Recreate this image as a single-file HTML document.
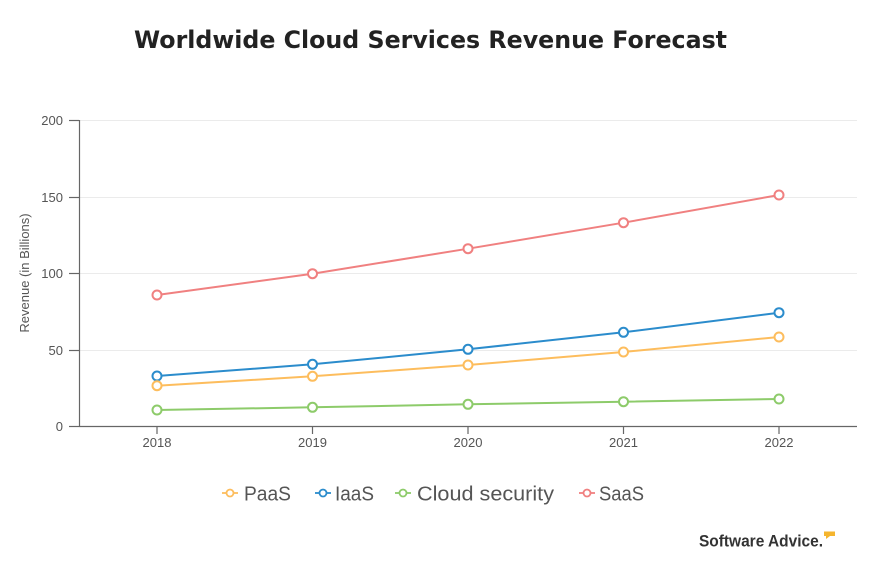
<!DOCTYPE html>
<html><head><meta charset="utf-8"><style>
html,body{margin:0;padding:0;background:#fff;}
svg{display:block;}
</style></head><body>
<svg width="882" height="577" viewBox="0 0 882 577" xmlns="http://www.w3.org/2000/svg">
<rect width="882" height="577" fill="#fff"/>
<text x="134" y="48" font-family="DejaVu Sans, Liberation Sans, sans-serif" font-weight="bold" font-size="24" fill="#222" textLength="593" lengthAdjust="spacingAndGlyphs">Worldwide Cloud Services Revenue Forecast</text>

<!-- grid -->
<g stroke="#ebebeb" stroke-width="1">
<line x1="80" y1="120.5" x2="857" y2="120.5"/>
<line x1="80" y1="197.5" x2="857" y2="197.5"/>
<line x1="80" y1="273.5" x2="857" y2="273.5"/>
<line x1="80" y1="350.5" x2="857" y2="350.5"/>
</g>
<!-- axes -->
<g stroke="#666" stroke-width="1.2">
<line x1="79.5" y1="120" x2="79.5" y2="426"/>
<line x1="79" y1="426.5" x2="857" y2="426.5"/>
<line x1="69" y1="120.5" x2="79" y2="120.5"/>
<line x1="69" y1="197.5" x2="79" y2="197.5"/>
<line x1="69" y1="273.5" x2="79" y2="273.5"/>
<line x1="69" y1="350.5" x2="79" y2="350.5"/>
<line x1="69" y1="426.5" x2="79" y2="426.5"/>
<line x1="157" y1="426" x2="157" y2="434"/>
<line x1="312.5" y1="426" x2="312.5" y2="434"/>
<line x1="468" y1="426" x2="468" y2="434"/>
<line x1="623.5" y1="426" x2="623.5" y2="434"/>
<line x1="779" y1="426" x2="779" y2="434"/>
</g>
<g font-family="Liberation Sans, sans-serif" font-size="13" fill="#555" text-anchor="end">
<text x="63" y="125">200</text>
<text x="63" y="202">150</text>
<text x="63" y="278">100</text>
<text x="63" y="355">50</text>
<text x="63" y="431">0</text>
</g>
<g font-family="Liberation Sans, sans-serif" font-size="13" fill="#555" text-anchor="middle">
<text x="157" y="447">2018</text>
<text x="312.5" y="447">2019</text>
<text x="468" y="447">2020</text>
<text x="623.5" y="447">2021</text>
<text x="779" y="447">2022</text>
</g>
<text transform="translate(29,273) rotate(-90)" font-family="Liberation Sans, sans-serif" font-size="13" fill="#555" text-anchor="middle">Revenue (in Billions)</text>

<!-- series -->
<g fill="none" stroke-width="2">
<polyline stroke="#f08080" points="157,295 312.5,273.7 468,248.7 623.5,222.7 779,195"/>
<polyline stroke="#2b8ccc" points="157,376 312.5,364.3 468,349.3 623.5,332.3 779,312.7"/>
<polyline stroke="#fdbd5d" points="157,385.7 312.5,376.3 468,365 623.5,352 779,337"/>
<polyline stroke="#8dcb6a" points="157,410 312.5,407.3 468,404.3 623.5,401.7 779,399"/>
</g>
<g fill="#fff" stroke-width="2">
<g stroke="#f08080">
<circle cx="157" cy="295" r="4.5"/><circle cx="312.5" cy="273.7" r="4.5"/><circle cx="468" cy="248.7" r="4.5"/><circle cx="623.5" cy="222.7" r="4.5"/><circle cx="779" cy="195" r="4.5"/>
</g>
<g stroke="#2b8ccc">
<circle cx="157" cy="376" r="4.5"/><circle cx="312.5" cy="364.3" r="4.5"/><circle cx="468" cy="349.3" r="4.5"/><circle cx="623.5" cy="332.3" r="4.5"/><circle cx="779" cy="312.7" r="4.5"/>
</g>
<g stroke="#fdbd5d">
<circle cx="157" cy="385.7" r="4.5"/><circle cx="312.5" cy="376.3" r="4.5"/><circle cx="468" cy="365" r="4.5"/><circle cx="623.5" cy="352" r="4.5"/><circle cx="779" cy="337" r="4.5"/>
</g>
<g stroke="#8dcb6a">
<circle cx="157" cy="410" r="4.5"/><circle cx="312.5" cy="407.3" r="4.5"/><circle cx="468" cy="404.3" r="4.5"/><circle cx="623.5" cy="401.7" r="4.5"/><circle cx="779" cy="399" r="4.5"/>
</g>
</g>

<!-- legend -->
<g stroke-width="1.8" fill="#fff">
<line x1="222" y1="493" x2="238" y2="493" stroke="#fdbd5d"/><circle cx="230" cy="493" r="3.5" stroke="#fdbd5d"/>
<line x1="315" y1="493" x2="331" y2="493" stroke="#2b8ccc"/><circle cx="323" cy="493" r="3.5" stroke="#2b8ccc"/>
<line x1="395" y1="493" x2="411" y2="493" stroke="#8dcb6a"/><circle cx="403" cy="493" r="3.5" stroke="#8dcb6a"/>
<line x1="579" y1="493" x2="595" y2="493" stroke="#f08080"/><circle cx="587" cy="493" r="3.5" stroke="#f08080"/>
</g>
<g font-family="Liberation Sans, sans-serif" font-size="20" fill="#555">
<text x="244" y="500.5" textLength="47" lengthAdjust="spacingAndGlyphs">PaaS</text>
<text x="335" y="500.5" textLength="39" lengthAdjust="spacingAndGlyphs">IaaS</text>
<text x="417" y="500.5" textLength="137" lengthAdjust="spacingAndGlyphs">Cloud security</text>
<text x="599" y="500.5" textLength="45" lengthAdjust="spacingAndGlyphs">SaaS</text>
</g>

<!-- logo -->
<text x="699" y="546.5" font-family="Liberation Sans, sans-serif" font-weight="bold" font-size="17" fill="#333" textLength="124" lengthAdjust="spacingAndGlyphs">Software Advice.</text>
<path d="M824,531.5 L835,531.5 L835,536 L830,536 L826,539 L826,536 L824,536 Z" fill="#f5b52e"/>
</svg>
</body></html>
